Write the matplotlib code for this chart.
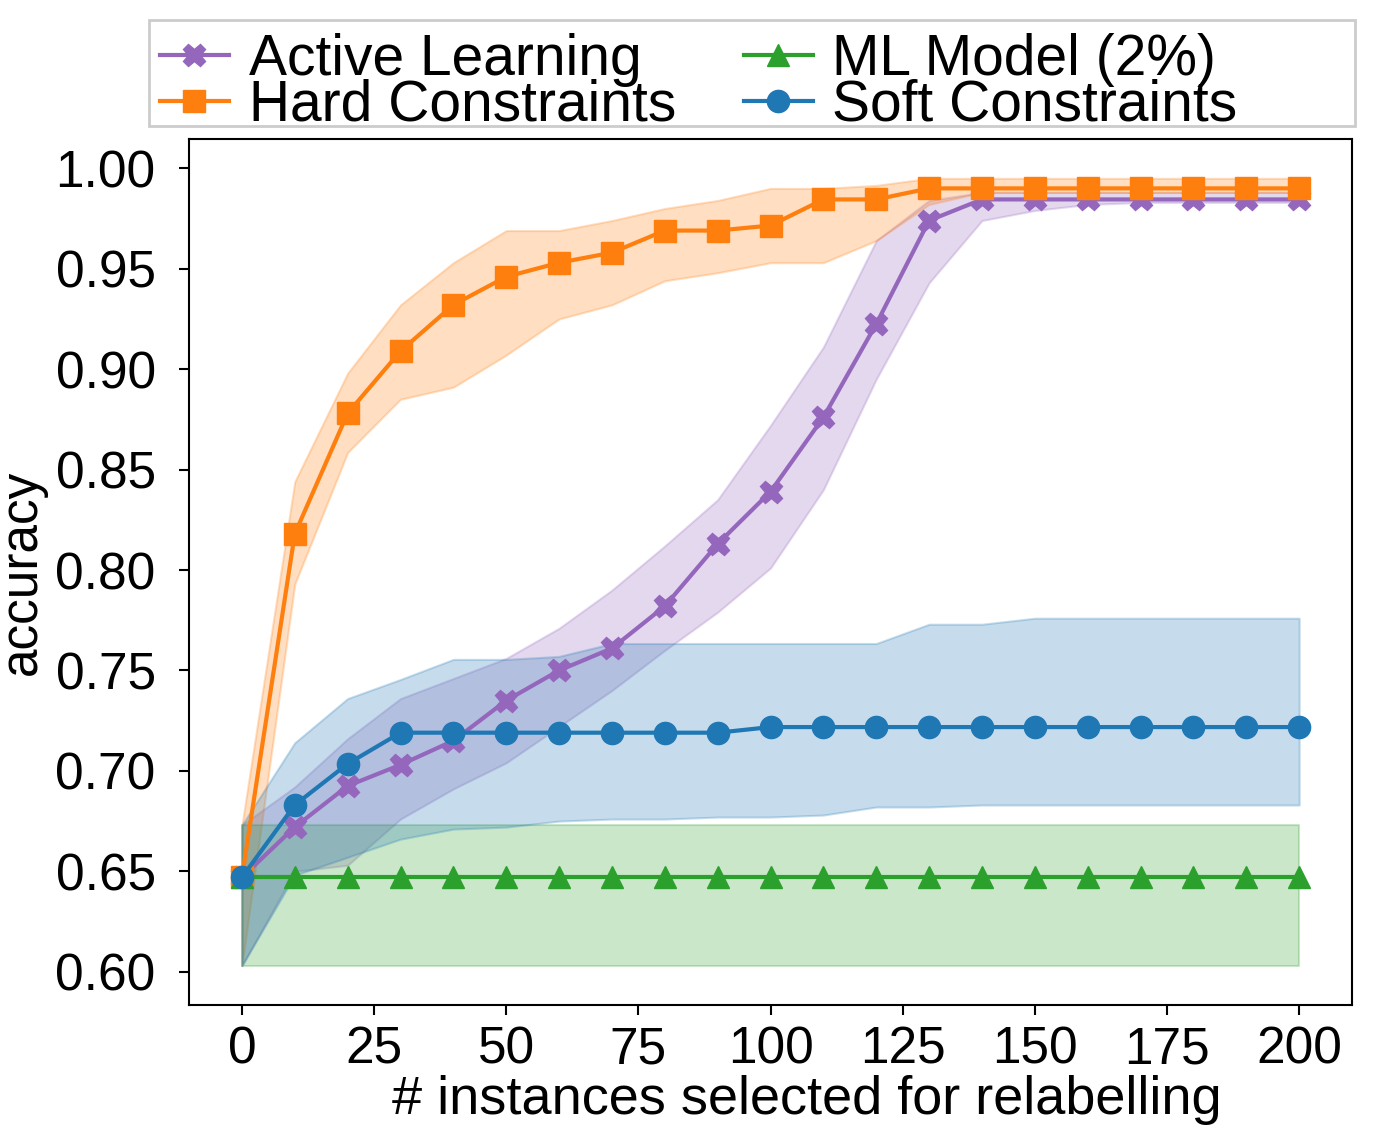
import matplotlib.pyplot as plt
from matplotlib.patches import Rectangle

plt.rcParams['font.family'] = ['Liberation Sans', 'DejaVu Sans']

steps = list(range(0, 201, 10))

active_mean = [0.647, 0.672, 0.6925, 0.703, 0.715, 0.735, 0.750, 0.761, 0.782, 0.813, 0.839,
               0.876, 0.9225, 0.974, 0.9845, 0.9845, 0.9845, 0.9845, 0.9845, 0.9845, 0.9845]
active_lo = [0.603, 0.650, 0.653, 0.676, 0.691, 0.704, 0.722, 0.740, 0.760, 0.779, 0.801,
             0.840, 0.895, 0.943, 0.974, 0.979, 0.982, 0.983, 0.983, 0.983, 0.983]
active_hi = [0.673, 0.692, 0.716, 0.736, 0.746, 0.756, 0.771, 0.790, 0.812, 0.835, 0.872,
             0.911, 0.964, 0.984, 0.988, 0.988, 0.988, 0.988, 0.988, 0.988, 0.988]

hard_mean = [0.647, 0.818, 0.878, 0.909, 0.932, 0.946, 0.953, 0.958, 0.969, 0.969, 0.9715,
             0.9845, 0.9845, 0.990, 0.990, 0.990, 0.990, 0.990, 0.990, 0.990, 0.990]
hard_lo = [0.603, 0.793, 0.8585, 0.885, 0.891, 0.907, 0.925, 0.932, 0.944, 0.948, 0.953,
           0.953, 0.964, 0.982, 0.988, 0.988, 0.988, 0.988, 0.988, 0.988, 0.988]
hard_hi = [0.673, 0.844, 0.898, 0.932, 0.953, 0.969, 0.969, 0.974, 0.980, 0.984, 0.990,
           0.990, 0.9915, 0.995, 0.995, 0.995, 0.995, 0.995, 0.995, 0.995, 0.995]

ml_mean = [0.647] * 21
ml_lo = [0.603] * 21
ml_hi = [0.673] * 21

soft_mean = [0.647, 0.683, 0.7035, 0.719, 0.719, 0.719, 0.719, 0.719, 0.719, 0.719, 0.7218,
             0.7218, 0.7218, 0.7218, 0.7218, 0.7218, 0.7218, 0.7218, 0.7218, 0.7218, 0.7218]
soft_lo = [0.603, 0.648, 0.657, 0.666, 0.671, 0.672, 0.675, 0.676, 0.676, 0.677, 0.677,
           0.678, 0.682, 0.682, 0.683, 0.683, 0.683, 0.683, 0.683, 0.683, 0.683]
soft_hi = [0.673, 0.714, 0.736, 0.7455, 0.7555, 0.7555, 0.757, 0.7634, 0.7634, 0.7634, 0.7634,
           0.7634, 0.7634, 0.773, 0.773, 0.776, 0.776, 0.776, 0.776, 0.776, 0.776]

series = [
    ("Active Learning", active_mean, active_lo, active_hi, "tab:purple", "X"),
    ("Hard Constraints", hard_mean, hard_lo, hard_hi, "tab:orange", "s"),
    ("ML Model (2%)", ml_mean, ml_lo, ml_hi, "tab:green", "^"),
    ("Soft Constraints", soft_mean, soft_lo, soft_hi, "tab:blue", "o"),
]

fig = plt.figure(figsize=(13.74, 11.28), dpi=100)
ax = fig.add_axes([0.1376, 0.109, 0.8464, 0.7678])

handles = []
for label, mean, lo, hi, color, marker in series:
    line, = ax.plot(steps, mean, color=color, marker=marker, lw=3, ms=16, label=label)
    ax.fill_between(steps, lo, hi, color=color, alpha=0.25, lw=1.5)
    handles.append(line)

ax.set_xticks([0, 25, 50, 75, 100, 125, 150, 175, 200])
ax.set_yticks([0.60, 0.65, 0.70, 0.75, 0.80, 0.85, 0.90, 0.95, 1.00])
ax.yaxis.set_major_formatter(plt.FormatStrFormatter('%.2f'))
ax.tick_params(axis='both', labelsize=37, length=7, width=1.5)
ax.tick_params(axis='y', pad=17)
ax.tick_params(axis='x', pad=8)
for sp in ax.spines.values():
    sp.set_linewidth(1.5)

ax.set_xlabel("# instances selected for relabelling", fontsize=39, labelpad=0, x=0.531)
ax.set_ylabel("accuracy", fontsize=37, labelpad=6)

fig.legend(handles, [s[0] for s in series], loc='upper left',
           bbox_to_anchor=(0.1084, 0.9805), borderaxespad=0, ncol=2,
           frameon=False, fontsize=41, labelspacing=-0.15, handlelength=1.2,
           handletextpad=0.35, columnspacing=1.2, borderpad=0.2)
fig.patches.append(Rectangle((0.1084, 0.8883), 0.8777, 0.094, transform=fig.transFigure,
                             fill=False, edgecolor='0.8', lw=2))

fig.savefig("out.png", dpi=100)
